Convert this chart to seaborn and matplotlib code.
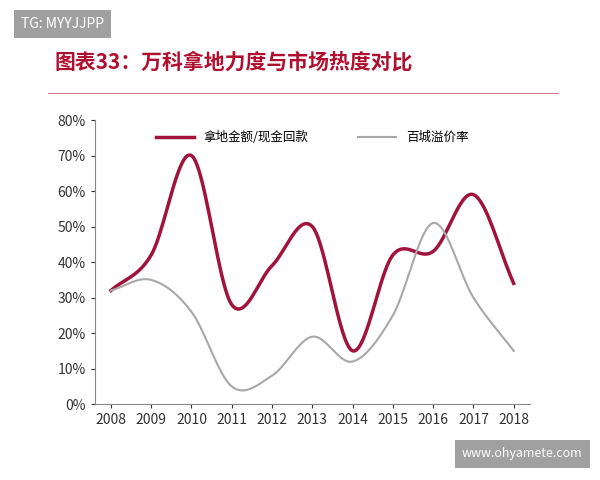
import numpy as np
import matplotlib
matplotlib.use("Agg")
import matplotlib.pyplot as plt
import seaborn as sns
import pandas as pd

years = [2008, 2009, 2010, 2011, 2012, 2013, 2014, 2015, 2016, 2017, 2018]
land_ratio = [32, 42, 70, 28, 39, 50, 15, 42, 43, 59, 34]
premium = [32, 35, 26, 5, 8, 19, 12, 25, 51, 30, 15]
name_a = "拿地金额/现金回款"
name_b = "百城溢价率"

def smooth(x, y, n=20):
    x = np.asarray(x, float); y = np.asarray(y, float)
    xs, ys = [], []
    px = np.concatenate([[2*x[0]-x[1]], x, [2*x[-1]-x[-2]]])
    py = np.concatenate([[2*y[0]-y[1]], y, [2*y[-1]-y[-2]]])
    for i in range(1, len(px)-2):
        t = np.linspace(0, 1, n, endpoint=False)
        for arr, out in ((px, xs), (py, ys)):
            p0, p1, p2, p3 = arr[i-1], arr[i], arr[i+1], arr[i+2]
            out.extend(0.5*((2*p1) + (-p0+p2)*t + (2*p0-5*p1+4*p2-p3)*t**2 + (-p0+3*p1-3*p2+p3)*t**3))
    xs.append(x[-1]); ys.append(y[-1])
    return np.array(xs), np.array(ys)

plt.rcParams["font.family"] = ["Noto Sans CJK SC", "DejaVu Sans"]
fig = plt.figure(figsize=(6, 4.8), dpi=100)
ax = fig.add_axes([0.158, 0.158, 0.725, 0.592])

xa, ya = smooth(years, land_ratio)
xb, yb = smooth(years, premium)
df = pd.concat([pd.DataFrame({"x": xa, "y": ya, "s": name_a}),
                pd.DataFrame({"x": xb, "y": yb, "s": name_b})])
sns.lineplot(data=df, x="x", y="y", hue="s", sort=False, estimator=None,
             palette={name_a: "#A0143C", name_b: "#A8A8A8"}, ax=ax)
for l, w in zip(ax.get_lines(), [2.5, 1.5]):
    l.set_linewidth(w)
ax.set_xlim(2007.6, 2018.4)
ax.set_ylim(0, 80)
ax.set_xticks(years)
ax.set_yticks(range(0, 81, 10))
ax.set_yticklabels([f"{v}%" for v in range(0, 81, 10)])
ax.tick_params(labelsize=10, colors="#333333", length=3)
ax.set_xlabel(""); ax.set_ylabel("")
for s in ["top", "right"]:
    ax.spines[s].set_visible(False)
for s in ["left", "bottom"]:
    ax.spines[s].set_color("#888888")
leg = ax.legend(loc="upper center", ncol=2, frameon=False, fontsize=9,
                bbox_to_anchor=(0.5, 1.0), columnspacing=4, handlelength=3)
for h, w in zip(leg.get_lines(), [2.5, 1.5]):
    h.set_linewidth(w)

fig.text(0.09, 0.87, "图表33：万科拿地力度与市场热度对比", color="#B01030",
         fontsize=15, fontstyle="italic", fontweight="bold", va="center")
fig.add_artist(plt.Line2D([0.08, 0.93], [0.806, 0.806], color="#D08090", lw=0.8))
fig.text(0.035, 0.95, "TG: MYYJJPP", color="white", fontsize=10, va="center",
         bbox=dict(boxstyle="square,pad=0.5", fc="#A0A0A0", ec="none"))
fig.text(0.77, 0.055, "www.ohyamete.com", color="white", fontsize=9, va="center",
         bbox=dict(boxstyle="square,pad=0.6", fc="#A0A0A0", ec="none"))
fig.savefig("out.png", dpi=100)
